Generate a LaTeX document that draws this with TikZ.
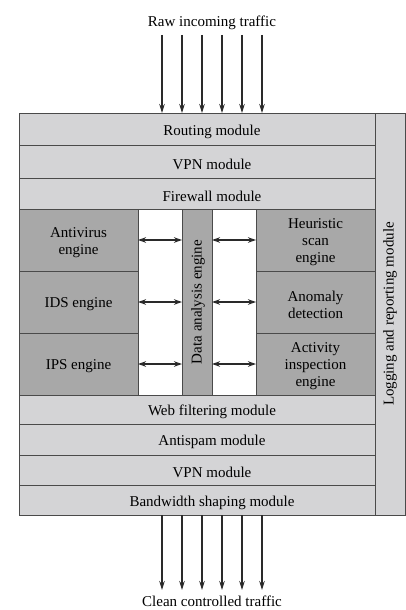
\documentclass[tikz,border=0pt]{standalone}
\usepackage{fontspec}
\setmainfont{Liberation Serif}
\usetikzlibrary{arrows.meta}
\definecolor{lightfill}{HTML}{D4D4D6}
\definecolor{darkfill}{HTML}{A8A8A8}
\definecolor{edge}{HTML}{4A4A4A}
\definecolor{arr}{HTML}{2A2A2A}
\tikzset{
  modbox/.style={draw=edge, line width=0.9pt, fill=lightfill, minimum width=356pt, inner sep=0pt, outer sep=0pt},
  engbox/.style={draw=edge, line width=0.9pt, fill=darkfill, minimum width=119pt, minimum height=62pt, inner sep=0pt, outer sep=0pt},
  txt/.style={font=\fontsize{15}{17}\selectfont, inner sep=0pt, align=center, yshift=-2.5pt},
  rtxt/.style={font=\fontsize{15}{17}\selectfont, inner sep=0pt, rotate=90},
  flow/.style={draw=arr, line width=1.3pt, -{Stealth[length=9pt,width=5.5pt]}},
  dbl/.style={draw=arr, line width=1.3pt, {Stealth[length=8pt,width=5.5pt]}-{Stealth[length=8pt,width=5.5pt]}}
}
\begin{document}
\begin{tikzpicture}[x=1pt,y=-1pt]
\useasboundingbox[fill=white] (0,0) rectangle (406,610);
% logging column
\node[draw=edge, line width=0.9pt, fill=lightfill, minimum width=30pt, minimum height=402pt, inner sep=0pt, outer sep=0pt] (log) at (390,314) {};
\node[rtxt] (logtxt) at (log.center) {Logging and reporting module};
% white middle area
\node[draw=edge, line width=0.9pt, fill=white, minimum width=356pt, minimum height=186pt, inner sep=0pt, outer sep=0pt] (mid) at (197,302) {};
% modules
\node[modbox, minimum height=32pt] (routing) at (197,129) {};
\node[txt] (routingt) at (212,129) {Routing module};
\node[modbox, minimum height=33pt] (vpn1) at (197,161.5) {};
\node[txt] (vpn1t) at (212,161.5) {VPN module};
\node[modbox, minimum height=31pt] (fw) at (197,193.5) {};
\node[txt] (fwt) at (212,193.5) {Firewall module};
\node[modbox, minimum height=29pt] (web) at (197,409.5) {};
\node[txt] (webt) at (212,409.5) {Web filtering module};
\node[modbox, minimum height=31pt] (spam) at (197,439.5) {};
\node[txt] (spamt) at (212,439.5) {Antispam module};
\node[modbox, minimum height=30pt] (vpn2) at (197,470) {};
\node[txt] (vpn2t) at (212,470) {VPN module};
\node[modbox, minimum height=30pt] (bw) at (197,500) {};
\node[txt] (bwt) at (212,500) {Bandwidth shaping module};
% engines
\node[engbox] (av) at (78.5,240) {};
\node[txt] (avt) at (av.center) {Antivirus\\engine};
\node[engbox] (ids) at (78.5,302) {};
\node[txt] (idst) at (ids.center) {IDS engine};
\node[engbox] (ips) at (78.5,364) {};
\node[txt] (ipst) at (ips.center) {IPS engine};
\node[engbox] (heur) at (315.5,240) {};
\node[txt] (heurt) at (heur.center) {Heuristic\\scan\\engine};
\node[engbox] (anom) at (315.5,302) {};
\node[txt] (anomt) at (anom.center) {Anomaly\\detection};
\node[engbox] (act) at (315.5,364) {};
\node[txt] (actt) at (act.center) {Activity\\inspection\\engine};
\node[draw=edge, line width=0.9pt, fill=darkfill, minimum width=30pt, minimum height=186pt, inner sep=0pt, outer sep=0pt] (data) at (197,302) {};
\node[rtxt] (datat) at (198,302) {Data analysis engine};
% double arrows
\draw[dbl] (av.east) -- (data.west |- av.east);
\draw[dbl] (ids.east) -- (data.west |- ids.east);
\draw[dbl] (ips.east) -- (data.west |- ips.east);
\draw[dbl] (data.east |- heur.west) -- (heur.west);
\draw[dbl] (data.east |- anom.west) -- (anom.west);
\draw[dbl] (data.east |- act.west) -- (act.west);
% top and bottom traffic
\node[txt] (raw) at (212,20) {Raw incoming traffic};
\node[txt] (clean) at (212,599) {Clean controlled traffic};
\foreach \i/\x in {1/162,2/182,3/202,4/222,5/242,6/262}{
  \coordinate (in\i) at (\x,35);
  \coordinate (out\i) at (\x,590);
  \draw[flow] (in\i) -- (routing.north -| in\i);
  \draw[flow] (bw.south -| out\i) -- (out\i);
}
\end{tikzpicture}
\end{document}
